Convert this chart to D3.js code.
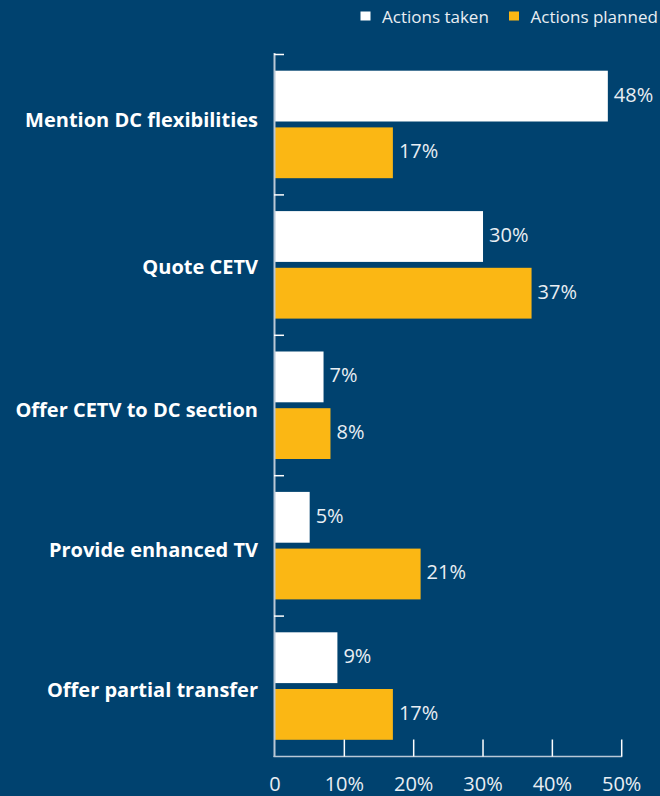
<!DOCTYPE html>
<html>
<head>
<meta charset="utf-8">
<script src="https://cdn.jsdelivr.net/npm/d3@7"></script>
<style>
  html, body { margin: 0; padding: 0; background: #00426f; }
  svg { display: block; }
</style>
</head>
<body>
<svg id="chart" width="660" height="796"></svg>
<script>
// Survey responses: share of schemes per action
const categories = [
  "Mention DC flexibilities",
  "Quote CETV",
  "Offer CETV to DC section",
  "Provide enhanced TV",
  "Offer partial transfer"
];
const actionsTaken   = [48, 30, 7, 5, 9];
const actionsPlanned = [17, 37, 8, 21, 17];
const seriesNames = ["Actions taken", "Actions planned"];
const xTicks = [0, 10, 20, 30, 40, 50];

const colors = { taken: "#ffffff", planned: "#fbb714" };
const bg = "#00426f";
const textColor = "#e9eef3";
const axisColor = "#b9c8d6";
const font = "'Open Sans', 'Noto Sans', sans-serif";
// baseline offsets of the category labels relative to their group centre
const labelBaseline = [3, 9, 12, 12, 11];

const svg = d3.select("#chart");
svg.append("rect").attr("width", 660).attr("height", 796).attr("fill", bg);

const x = d3.scaleLinear().domain([0, 50]).range([275, 621.7]);
const y = d3.scaleBand().domain(categories).range([54, 756]).paddingInner(0).paddingOuter(0);
const sub = d3.scaleBand().domain(seriesNames).range([16.7, 124.2]).paddingInner(0.104);

// Bars and value labels
const rows = categories.map((c, i) => ({ c, vals: [actionsTaken[i], actionsPlanned[i]] }));
const g = svg.append("g");
rows.forEach(r => {
  r.vals.forEach((v, j) => {
    const name = seriesNames[j];
    const yy = y(r.c) + sub(name);
    g.append("rect")
      .attr("x", x(0))
      .attr("y", yy)
      .attr("width", x(v) - x(0))
      .attr("height", sub.bandwidth())
      .attr("fill", j === 0 ? colors.taken : colors.planned);
    g.append("text")
      .attr("x", x(v) + 6)
      .attr("y", yy + sub.bandwidth() / 2 + 5.5)
      .attr("fill", textColor)
      .attr("font-family", font)
      .attr("font-size", 20)
      .text(v + "%");
  });
});

// Category labels
svg.append("g").selectAll("text").data(categories).join("text")
  .attr("x", 258)
  .attr("y", (d, i) => y(d) + y.bandwidth() / 2 + labelBaseline[i])
  .attr("text-anchor", "end")
  .attr("fill", "#ffffff")
  .attr("font-family", font)
  .attr("font-weight", "bold")
  .attr("font-size", 20)
  .text(d => d);

// Left axis with ticks at group boundaries
const leftAxis = svg.append("g");
leftAxis.append("line")
  .attr("x1", x(0) - 0.5).attr("x2", x(0) - 0.5)
  .attr("y1", 53).attr("y2", 757)
  .attr("stroke", axisColor).attr("stroke-width", 2);
const bounds = categories.map(c => y(c));
leftAxis.selectAll("line.tk").data(bounds).join("line")
  .attr("class", "tk")
  .attr("x1", x(0) - 1).attr("x2", x(0) + 9)
  .attr("y1", d => d + 0.5).attr("y2", d => d + 0.5)
  .attr("stroke", "#ffffff").attr("stroke-width", 1.5);

// Bottom axis
const axisY = 756.5;
const bottom = svg.append("g");
bottom.append("line")
  .attr("x1", x(0) - 1.5).attr("x2", x(50) + 0.5)
  .attr("y1", axisY).attr("y2", axisY)
  .attr("stroke", axisColor).attr("stroke-width", 1.5);
bottom.selectAll("line.tk").data(xTicks.slice(1)).join("line")
  .attr("class", "tk")
  .attr("x1", d => x(d)).attr("x2", d => x(d))
  .attr("y1", axisY - 17).attr("y2", axisY)
  .attr("stroke", "#ffffff").attr("stroke-width", 1.5);
bottom.selectAll("text").data(xTicks).join("text")
  .attr("x", d => x(d))
  .attr("y", 790.5)
  .attr("text-anchor", "middle")
  .attr("fill", textColor)
  .attr("font-family", font)
  .attr("font-size", 20)
  .text(d => d === 0 ? "0" : d + "%");

// Legend
const legend = svg.append("g");
const legendItems = [
  { name: seriesNames[0], color: colors.taken, x: 360.5, tx: 382 },
  { name: seriesNames[1], color: colors.planned, x: 509, tx: 530.5 }
];
legendItems.forEach(it => {
  legend.append("rect")
    .attr("x", it.x).attr("y", 11.5)
    .attr("width", 10).attr("height", 9)
    .attr("fill", it.color);
  legend.append("text")
    .attr("x", it.tx).attr("y", 22.5)
    .attr("fill", textColor)
    .attr("font-family", font)
    .attr("font-size", 17)
    .text(it.name);
});
</script>
</body>
</html>
